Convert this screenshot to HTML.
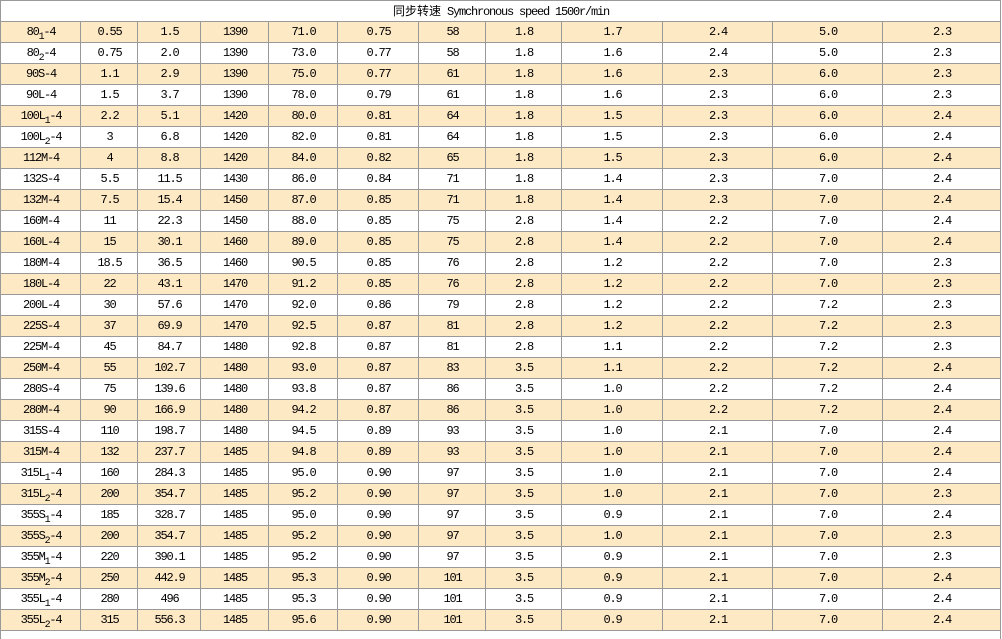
<!DOCTYPE html>
<html><head><meta charset="utf-8"><style>
html,body{margin:0;padding:0;background:#fff}
body{width:1002px;height:639px;overflow:hidden;position:relative}
.t{position:absolute;left:0;top:0;width:1001px}
.r{display:flex;width:1001px;height:21px;box-sizing:border-box;border-top:1px solid #999;border-right:1px solid #999;font:12px/20px "Liberation Mono","Noto Sans CJK SC",monospace;letter-spacing:-1.2px;color:#000;white-space:nowrap}
.r span{flex:none;box-sizing:border-box;border-left:1px solid #999;text-align:center;height:20px;padding-left:1px}
.r span:nth-child(1){width:80px}
.r span:nth-child(2){width:57px}
.r span:nth-child(3){width:63px}
.r span:nth-child(4){width:68px}
.r span:nth-child(5){width:69px}
.r span:nth-child(6){width:81px}
.r span:nth-child(7){width:67px}
.r span:nth-child(8){width:76px}
.r span:nth-child(9){width:101px}
.r span:nth-child(10){width:110px}
.r span:nth-child(11){width:110px}
.r span:nth-child(12){width:118px}
.r.h span{width:1000px!important}
.h .c{letter-spacing:0;font-family:"Noto Sans CJK SC",sans-serif}
.b{background:#FEE9C5}
sub{font-size:10px;vertical-align:-4px;line-height:0}
.e{position:absolute;left:0;top:630px;width:1001px;height:9px;box-sizing:border-box;border-top:1px solid #999;border-left:1px solid #999;border-right:1px solid #999;background:#fff}
</style></head><body>
<div class="t">
<div class="r h"><span><span class="c" style="border:0;width:auto!important;display:inline;padding:0">同步转速</span> Symchronous speed 1500r/min</span></div>
<div class="r b"><span>80<sub>1</sub>-4</span><span>0.55</span><span>1.5</span><span>1390</span><span>71.0</span><span>0.75</span><span>58</span><span>1.8</span><span>1.7</span><span>2.4</span><span>5.0</span><span>2.3</span></div>
<div class="r"><span>80<sub>2</sub>-4</span><span>0.75</span><span>2.0</span><span>1390</span><span>73.0</span><span>0.77</span><span>58</span><span>1.8</span><span>1.6</span><span>2.4</span><span>5.0</span><span>2.3</span></div>
<div class="r b"><span>90S-4</span><span>1.1</span><span>2.9</span><span>1390</span><span>75.0</span><span>0.77</span><span>61</span><span>1.8</span><span>1.6</span><span>2.3</span><span>6.0</span><span>2.3</span></div>
<div class="r"><span>90L-4</span><span>1.5</span><span>3.7</span><span>1390</span><span>78.0</span><span>0.79</span><span>61</span><span>1.8</span><span>1.6</span><span>2.3</span><span>6.0</span><span>2.3</span></div>
<div class="r b"><span>100L<sub>1</sub>-4</span><span>2.2</span><span>5.1</span><span>1420</span><span>80.0</span><span>0.81</span><span>64</span><span>1.8</span><span>1.5</span><span>2.3</span><span>6.0</span><span>2.4</span></div>
<div class="r"><span>100L<sub>2</sub>-4</span><span>3</span><span>6.8</span><span>1420</span><span>82.0</span><span>0.81</span><span>64</span><span>1.8</span><span>1.5</span><span>2.3</span><span>6.0</span><span>2.4</span></div>
<div class="r b"><span>112M-4</span><span>4</span><span>8.8</span><span>1420</span><span>84.0</span><span>0.82</span><span>65</span><span>1.8</span><span>1.5</span><span>2.3</span><span>6.0</span><span>2.4</span></div>
<div class="r"><span>132S-4</span><span>5.5</span><span>11.5</span><span>1430</span><span>86.0</span><span>0.84</span><span>71</span><span>1.8</span><span>1.4</span><span>2.3</span><span>7.0</span><span>2.4</span></div>
<div class="r b"><span>132M-4</span><span>7.5</span><span>15.4</span><span>1450</span><span>87.0</span><span>0.85</span><span>71</span><span>1.8</span><span>1.4</span><span>2.3</span><span>7.0</span><span>2.4</span></div>
<div class="r"><span>160M-4</span><span>11</span><span>22.3</span><span>1450</span><span>88.0</span><span>0.85</span><span>75</span><span>2.8</span><span>1.4</span><span>2.2</span><span>7.0</span><span>2.4</span></div>
<div class="r b"><span>160L-4</span><span>15</span><span>30.1</span><span>1460</span><span>89.0</span><span>0.85</span><span>75</span><span>2.8</span><span>1.4</span><span>2.2</span><span>7.0</span><span>2.4</span></div>
<div class="r"><span>180M-4</span><span>18.5</span><span>36.5</span><span>1460</span><span>90.5</span><span>0.85</span><span>76</span><span>2.8</span><span>1.2</span><span>2.2</span><span>7.0</span><span>2.3</span></div>
<div class="r b"><span>180L-4</span><span>22</span><span>43.1</span><span>1470</span><span>91.2</span><span>0.85</span><span>76</span><span>2.8</span><span>1.2</span><span>2.2</span><span>7.0</span><span>2.3</span></div>
<div class="r"><span>200L-4</span><span>30</span><span>57.6</span><span>1470</span><span>92.0</span><span>0.86</span><span>79</span><span>2.8</span><span>1.2</span><span>2.2</span><span>7.2</span><span>2.3</span></div>
<div class="r b"><span>225S-4</span><span>37</span><span>69.9</span><span>1470</span><span>92.5</span><span>0.87</span><span>81</span><span>2.8</span><span>1.2</span><span>2.2</span><span>7.2</span><span>2.3</span></div>
<div class="r"><span>225M-4</span><span>45</span><span>84.7</span><span>1480</span><span>92.8</span><span>0.87</span><span>81</span><span>2.8</span><span>1.1</span><span>2.2</span><span>7.2</span><span>2.3</span></div>
<div class="r b"><span>250M-4</span><span>55</span><span>102.7</span><span>1480</span><span>93.0</span><span>0.87</span><span>83</span><span>3.5</span><span>1.1</span><span>2.2</span><span>7.2</span><span>2.4</span></div>
<div class="r"><span>280S-4</span><span>75</span><span>139.6</span><span>1480</span><span>93.8</span><span>0.87</span><span>86</span><span>3.5</span><span>1.0</span><span>2.2</span><span>7.2</span><span>2.4</span></div>
<div class="r b"><span>280M-4</span><span>90</span><span>166.9</span><span>1480</span><span>94.2</span><span>0.87</span><span>86</span><span>3.5</span><span>1.0</span><span>2.2</span><span>7.2</span><span>2.4</span></div>
<div class="r"><span>315S-4</span><span>110</span><span>198.7</span><span>1480</span><span>94.5</span><span>0.89</span><span>93</span><span>3.5</span><span>1.0</span><span>2.1</span><span>7.0</span><span>2.4</span></div>
<div class="r b"><span>315M-4</span><span>132</span><span>237.7</span><span>1485</span><span>94.8</span><span>0.89</span><span>93</span><span>3.5</span><span>1.0</span><span>2.1</span><span>7.0</span><span>2.4</span></div>
<div class="r"><span>315L<sub>1</sub>-4</span><span>160</span><span>284.3</span><span>1485</span><span>95.0</span><span>0.90</span><span>97</span><span>3.5</span><span>1.0</span><span>2.1</span><span>7.0</span><span>2.4</span></div>
<div class="r b"><span>315L<sub>2</sub>-4</span><span>200</span><span>354.7</span><span>1485</span><span>95.2</span><span>0.90</span><span>97</span><span>3.5</span><span>1.0</span><span>2.1</span><span>7.0</span><span>2.3</span></div>
<div class="r"><span>355S<sub>1</sub>-4</span><span>185</span><span>328.7</span><span>1485</span><span>95.0</span><span>0.90</span><span>97</span><span>3.5</span><span>0.9</span><span>2.1</span><span>7.0</span><span>2.4</span></div>
<div class="r b"><span>355S<sub>2</sub>-4</span><span>200</span><span>354.7</span><span>1485</span><span>95.2</span><span>0.90</span><span>97</span><span>3.5</span><span>1.0</span><span>2.1</span><span>7.0</span><span>2.3</span></div>
<div class="r"><span>355M<sub>1</sub>-4</span><span>220</span><span>390.1</span><span>1485</span><span>95.2</span><span>0.90</span><span>97</span><span>3.5</span><span>0.9</span><span>2.1</span><span>7.0</span><span>2.3</span></div>
<div class="r b"><span>355M<sub>2</sub>-4</span><span>250</span><span>442.9</span><span>1485</span><span>95.3</span><span>0.90</span><span>101</span><span>3.5</span><span>0.9</span><span>2.1</span><span>7.0</span><span>2.4</span></div>
<div class="r"><span>355L<sub>1</sub>-4</span><span>280</span><span>496</span><span>1485</span><span>95.3</span><span>0.90</span><span>101</span><span>3.5</span><span>0.9</span><span>2.1</span><span>7.0</span><span>2.4</span></div>
<div class="r b"><span>355L<sub>2</sub>-4</span><span>315</span><span>556.3</span><span>1485</span><span>95.6</span><span>0.90</span><span>101</span><span>3.5</span><span>0.9</span><span>2.1</span><span>7.0</span><span>2.4</span></div>
</div>
<div class="e"></div>
</body></html>
